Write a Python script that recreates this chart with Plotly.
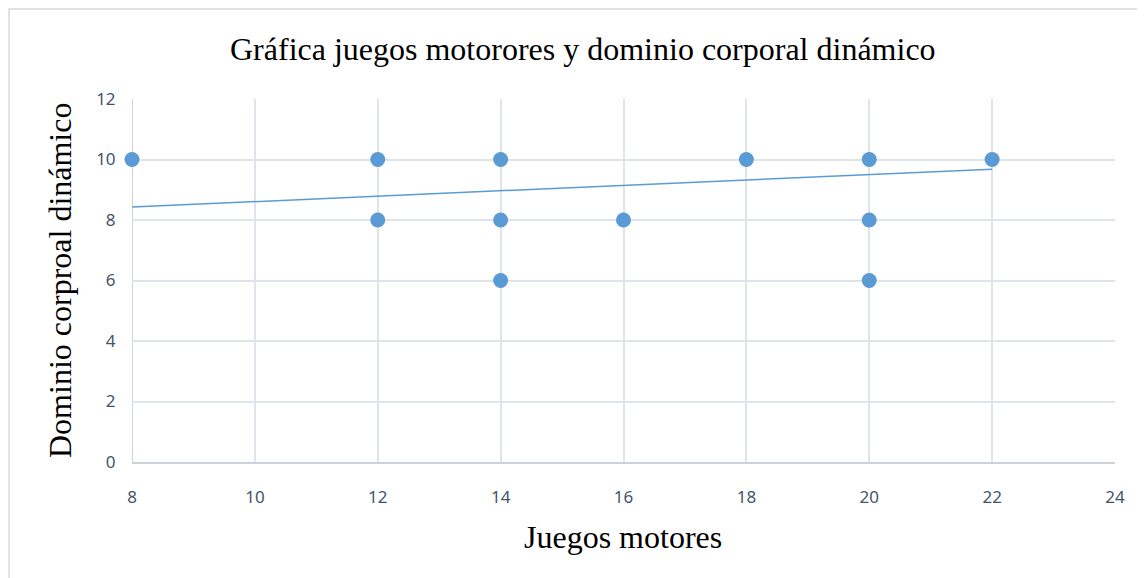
import plotly.graph_objects as go

# Data
juegos = [8, 12, 12, 14, 14, 14, 16, 18, 20, 20, 20, 22]
dominio = [10, 10, 8, 10, 8, 6, 8, 10, 10, 8, 6, 10]
trend_x = [8, 22]
trend_y = [8.43, 9.68]
x_ticks = [8, 10, 12, 14, 16, 18, 20, 22, 24]
y_ticks = [0, 2, 4, 6, 8, 10, 12]

OFF = 8  # page body margin
W, H = 1145 - OFF, 578 - OFF
ml, mt = 132 - OFF, 99 - OFF
pw, ph = 1115 - 132, 462 - 99
mr, mb = W - ml - pw, H - mt - ph

def px_x(px):
    return (px - OFF - ml) / pw

def px_y(py):
    return (mt + ph - (py - OFF)) / ph

fig = go.Figure()
fig.add_trace(go.Scatter(x=trend_x, y=trend_y, mode="lines",
                         line=dict(color="#5B9BD5", width=1.5), hoverinfo="skip",
                         showlegend=False, cliponaxis=False))
fig.add_trace(go.Scatter(x=juegos, y=dominio, mode="markers",
                         marker=dict(size=15, color="#5B9BD5",
                                     line=dict(color="#5B9BD5", width=0)),
                         showlegend=False, cliponaxis=False))

tickfont = dict(family="Noto Sans", size=17, color="#44546A")
fig.update_layout(
    width=W, height=H,
    margin=dict(l=ml, r=mr, t=mt, b=mb),
    paper_bgcolor="white", plot_bgcolor="white",
    xaxis=dict(range=[8, 24], tickvals=x_ticks, showgrid=True, gridcolor="#DFE3EA", gridwidth=1.5,
               zeroline=False, showline=True, linecolor="#CDD2DA", linewidth=1.5,
               tickfont=tickfont, ticks="outside", ticklen=19, tickcolor="rgba(0,0,0,0)",
               automargin=False),
    yaxis=dict(range=[0, 12], tickvals=y_ticks, showgrid=True, gridcolor="#DFE3EA", gridwidth=1.5,
               zeroline=False, showline=False, ticks="outside", ticklen=12,
               tickcolor="rgba(0,0,0,0)", tickfont=tickfont, automargin=False),
)

fig.add_annotation(text="Gráfica juegos motorores y dominio corporal dinámico",
                   xref="paper", yref="paper", x=px_x(583), y=px_y(49),
                   xanchor="center", yanchor="middle", showarrow=False,
                   font=dict(family="Liberation Serif", size=32, color="black"))
fig.add_annotation(text="Juegos motores", xref="paper", yref="paper",
                   x=px_x(623), y=px_y(537),
                   xanchor="center", yanchor="middle", showarrow=False,
                   font=dict(family="Liberation Serif", size=32, color="black"))
fig.add_annotation(text="Dominio corproal dinámico", xref="paper", yref="paper",
                   x=px_x(60), y=px_y(281), textangle=-90,
                   xanchor="center", yanchor="middle", showarrow=False,
                   font=dict(family="Liberation Serif", size=32, color="black"))

# vertical axis line at x=8
fig.add_shape(type="line", xref="x", yref="paper", x0=8, x1=8, y0=0, y1=1,
              line=dict(color="#BFC5CE", width=1.5), layer="below")

# outer chart border
fig.add_shape(type="rect", xref="paper", yref="paper",
              x0=px_x(9), x1=px_x(1150), y0=px_y(585), y1=px_y(9),
              line=dict(color="#D9D9D9", width=1.5), fillcolor="rgba(0,0,0,0)")

fig.write_html("out.html")
